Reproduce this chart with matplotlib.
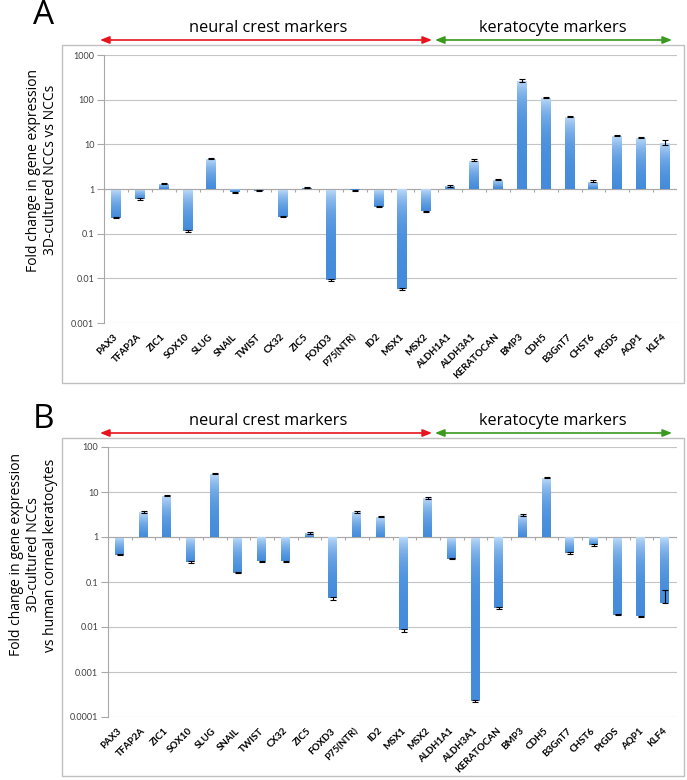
import numpy as np
import matplotlib.pyplot as plt
from matplotlib.patches import Rectangle, FancyArrowPatch
from matplotlib.ticker import LogLocator, NullLocator, FuncFormatter

plt.rcParams['font.family'] = ['Lato', 'DejaVu Sans']

genes = ["PAX3", "TFAP2A", "ZIC1", "SOX10", "SLUG", "SNAIL", "TWIST", "CX32",
         "ZIC5", "FOXD3", "P75(NTR)", "ID2", "MSX1", "MSX2", "ALDH1A1", "ALDH3A1",
         "KERATOCAN", "BMP3", "CDH5", "B3GnT7", "CHST6", "PtGDS", "AQP1", "KLF4"]

# panel A: 3D-cultured NCCs vs NCCs
fold_a = [0.23, 0.6, 1.34, 0.117, 4.85, 0.84, 0.92, 0.24, 1.07, 0.0092, 0.93, 0.40,
          0.0057, 0.32, 1.17, 4.45, 1.64, 275, 111, 42.6, 1.48, 15.8, 14.3, 11.2]
err_a = [0.01, 0.02, 0.05, 0.006, 0.15, 0.02, 0.02, 0.008, 0.02, 0.0006, 0.02, 0.01,
         0.0003, 0.01, 0.04, 0.3, 0.05, 22, 3, 1, 0.08, 0.4, 0.4, 1.3]

# panel B: 3D-cultured NCCs vs human corneal keratocytes
fold_b = [0.40, 3.6, 8.3, 0.28, 25.9, 0.16, 0.29, 0.29, 1.23, 0.043, 3.6, 2.8,
          0.0084, 7.4, 0.33, 0.00023, 0.0264, 3.1, 20.8, 0.44, 0.66, 0.0188, 0.0172, 0.034]
err_b_lo = [0.01, 0.1, 0.3, 0.01, 0.7, 0.004, 0.01, 0.01, 0.04, 0.004, 0.1, 0.08,
            0.0005, 0.4, 0.01, 0.00001, 0.0008, 0.2, 0.6, 0.015, 0.03, 0.0006, 0.0005, 0.0]
err_b_hi = [0.01, 0.1, 0.3, 0.01, 0.7, 0.004, 0.01, 0.01, 0.04, 0.004, 0.1, 0.08,
            0.0005, 0.4, 0.01, 0.00001, 0.0008, 0.2, 0.6, 0.015, 0.03, 0.0006, 0.0005, 0.033]

W, H = 687, 780
fig = plt.figure(figsize=(W / 100, H / 100), dpi=100)


def fx(x):
    return x / W


def fy(y):
    return 1 - y / H


light = np.array([0.76, 0.87, 0.98])
dark = np.array([0.27, 0.55, 0.86])
t = np.linspace(0, 1, 64)[:, None, None]
grad = dark * (1 - t) + light * t  # row 0 = bottom (dark)


def panel(ax, vals, yerr, ylo, yhi):
    x = np.arange(len(genes))
    vals = np.array(vals)
    bars = ax.bar(x, vals - 1, bottom=1, width=0.42, color='none', lw=0, zorder=2)
    for p in bars:
        x0, w = p.get_x(), p.get_width()
        y0, y1 = sorted([p.get_y(), p.get_y() + p.get_height()])
        ax.imshow(grad, extent=(x0, x0 + w, y0, y1), origin='lower',
                  aspect='auto', interpolation='bilinear', zorder=2)
    ax.errorbar(x, vals, yerr=yerr, fmt='none', ecolor='black', elinewidth=0.8,
                capsize=2, capthick=0.8, zorder=3)
    ax.set_yscale('log')
    ax.set_ylim(ylo, yhi)
    ax.set_xlim(-0.5, len(genes) - 0.5)
    ax.yaxis.set_major_locator(LogLocator(base=10, numticks=12))
    ax.yaxis.set_minor_locator(NullLocator())
    ax.yaxis.set_major_formatter(FuncFormatter(lambda v, pos: f'{v:g}'))
    ax.yaxis.grid(True, color='#c4c4c4', lw=0.8)
    ax.set_axisbelow(True)
    ax.axhline(1, color='#a8a8a8', lw=0.8, zorder=1.5)
    ax.vlines(np.arange(len(genes) + 1) - 0.5, 10 ** -0.07, 1, color='#a8a8a8', lw=0.8, zorder=1.5)
    for s in ['top', 'right', 'bottom']:
        ax.spines[s].set_visible(False)
    ax.spines['left'].set_color('#a8a8a8')
    ax.tick_params(axis='y', length=5, color='#a8a8a8', labelsize=6.5,
                   labelcolor='#404040', pad=2)
    ax.set_xticks(x)
    ax.set_xticklabels(genes, rotation=45, ha='right', va='center',
                       rotation_mode='anchor', fontweight='bold', fontsize=7)
    ax.tick_params(axis='x', length=0, pad=9)


def header(top, letter, letter_y, label, label_y):
    fig.add_artist(Rectangle((fx(62), fy(top + 338)), 622 / W, 338 / H,
                             transform=fig.transFigure, fill=False, ec='#c0c0c0', lw=1))
    fig.text(fx(44), fy(letter_y), letter, fontsize=24, ha='center', va='center',
             family='Open Sans')
    ty, ay = top - 17, top - 5
    fig.text(fx(268), fy(ty), 'neural crest markers', fontsize=11.8, ha='center',
             va='center', family='Open Sans')
    fig.text(fx(553), fy(ty), 'keratocyte markers', fontsize=11.8, ha='center',
             va='center', family='Open Sans')
    for (a, b), c in [((100, 432), '#e8141c'), ((435, 672), '#3a9a1e')]:
        fig.add_artist(FancyArrowPatch((fx(a), fy(ay)), (fx(b), fy(ay)),
                                       transform=fig.transFigure,
                                       arrowstyle='<|-|>,head_length=5.5,head_width=2.2',
                                       color=c, lw=1.2, shrinkA=0, shrinkB=0))
    fig.text(fx(58), fy(label_y), label, rotation=90, ha='right', va='center',
             multialignment='center', fontsize=10, family='Open Sans')


ax_a = fig.add_axes([fx(104), fy(323), (677 - 104) / W, (323 - 55) / H])
panel(ax_a, fold_a, err_a, 0.001, 1000)
header(45, 'A', 15, 'Fold change in gene expression\n3D-cultured NCCs vs NCCs', 170)

ax_b = fig.add_axes([fx(108), fy(717), (677 - 108) / W, (717 - 447) / H])
panel(ax_b, fold_b, [err_b_lo, err_b_hi], 0.0001, 100)
header(438, 'B', 419,
       'Fold change in gene expression\n3D-cultured NCCs\nvs human corneal keratocytes', 555)

fig.savefig('out.png', dpi=100)
